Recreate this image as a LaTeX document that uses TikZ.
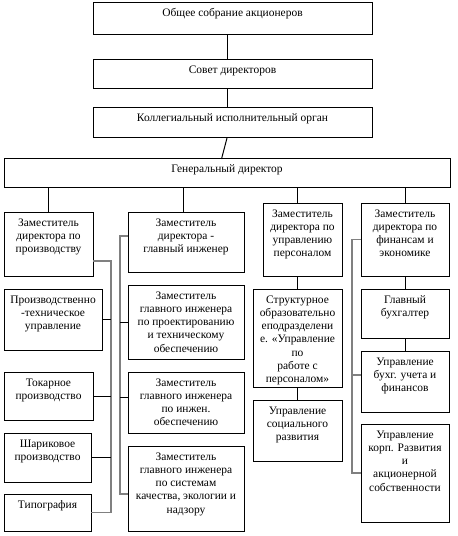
\documentclass[tikz,border=0pt]{standalone}
\usepackage{fontspec}
\setmainfont{Liberation Serif}
\tikzset{
  box/.style={draw=black, line width=1bp, inner sep=0pt, outer sep=0pt, anchor=north west},
  link/.style={draw=black, line width=1bp},
  bus/.style={draw=black!50, line width=1.6bp},
}
\newcommand\bx[6]{%
  \pgfmathsetmacro\bxw{#4-#2}\pgfmathsetmacro\bxh{#5-#3}%
  \node[box] (#1) at (#2,#3) {\parbox[t][\bxh bp][t]{\bxw bp}{\centering\rule{0pt}{14bp}#6\par}};}
\begin{document}
\begin{tikzpicture}[x=1bp,y=-1bp]
\useasboundingbox (0,0) rectangle (458,536);
\fontsize{11.5}{13.3}\selectfont
% top
\bx{a1}{93}{3}{372}{35}{Общее собрание акционеров}
\bx{a2}{93}{60}{372}{89}{Совет директоров}
\bx{a3}{93}{108}{372}{138}{Коллегиальный исполнительный орган}
\bx{gd}{4}{159}{450}{187}{Генеральный директор}
% column 1
\bx{c1}{4}{212}{93}{276}{Заместитель\\директора по\\производству}
\bx{c2}{4}{289}{102}{350}{Производственно\\-техническое\\управление}
\bx{c3}{4}{372}{93}{420}{Токарное\\производство}
\bx{c4}{4}{433}{91}{482}{Шариковое\\производство}
\bx{c5}{4}{494}{91}{531}{Типография}
% column 2
\bx{e1}{128}{212}{244}{272}{Заместитель\\директора -\\главный инженер}
\bx{e2}{128}{285}{244}{359}{Заместитель\\главного инженера\\по проектированию\\и техническому\\обеспечению}
\bx{e3}{128}{372}{244}{433}{Заместитель\\главного инженера\\по инжен.\\обеспечению}
\bx{e4}{128}{446}{244}{531}{Заместитель\\главного инженера\\по системам\\качества, экологии и\\надзору}
% column 3
\bx{p1}{263}{203}{342}{276}{Заместитель\\директора по\\управлению\\персоналом}
\bx{p2}{253}{289}{342}{387}{Структурное\\образовательно\\еподразделени\\е. «Управление\\по\\работе с\\персоналом»}
\bx{p3}{253}{400}{342}{461}{Управление\\социального\\развития}
% column 4
\bx{f1}{361}{203}{449}{276}{Заместитель\\директора по\\финансам и\\экономике}
\bx{f2}{361}{289}{449}{338}{Главный\\бухгалтер}
\bx{f3}{361}{351}{449}{412}{Управление\\бухг. учета и\\финансов}
\bx{f4}{361}{424}{449}{522}{Управление\\корп. Развития\\и\\акционерной\\собственности}
% top connectors
\draw[link] ([xshift=-5.5bp]a1.south) -- ([xshift=-5.5bp]a2.north);
\draw[link] ([xshift=-5.5bp]a2.south) -- ([xshift=-5.5bp]a3.north);
\draw[link] ([xshift=-5.5bp]a3.south) -- ([xshift=-5.5bp]gd.north);
% drops from general director
\draw[link] (gd.south -| c1.north) -- (c1.north);
\draw[link] (gd.south -| e1.north) ++(-3,0) coordinate (d2) -- (d2 |- e1.north);
\draw[link] (gd.south -| p2.north) -- (p2.north |- p1.north);
\draw[link] (gd.south -| f1.north) -- (f1.north);
% column 1 bus
\coordinate (b1) at (111,0);
\draw[bus] (c1.east |- 0,261) -| (b1 |- c5.east) -- (c5.east);
\draw[link] (c2.east) -- (c2.east -| b1);
\draw[link] (c3.east) -- (c3.east -| b1);
\draw[link] (c4.east) -- (c4.east -| b1);
% column 2 bus
\coordinate (b2) at (120,0);
\draw[bus] (e1.west |- 0,236) -| (b2 |- 0,494) -- (e4.west |- 0,494);
\draw[link] (e2.west) -- (e2.west -| b2);
\draw[link] (e3.west |- 0,397) -- (b2 |- 0,397);
% column 3
\draw[link] (p1.south -| p2.north) -- (p2.north);
\draw[link] (p2.south) -- (p3.north);
% column 4
\draw[link] (f1.south) -- (f2.north);
\draw[link] (f2.south) -- (f3.north);
\coordinate (b4) at (352,0);
\draw[bus] (f1.west) -| (b4 |- f4.west) -- (f4.west);
\draw[bus] (f3.west |- 0,375) -- (b4 |- 0,375);
\end{tikzpicture}
\end{document}
